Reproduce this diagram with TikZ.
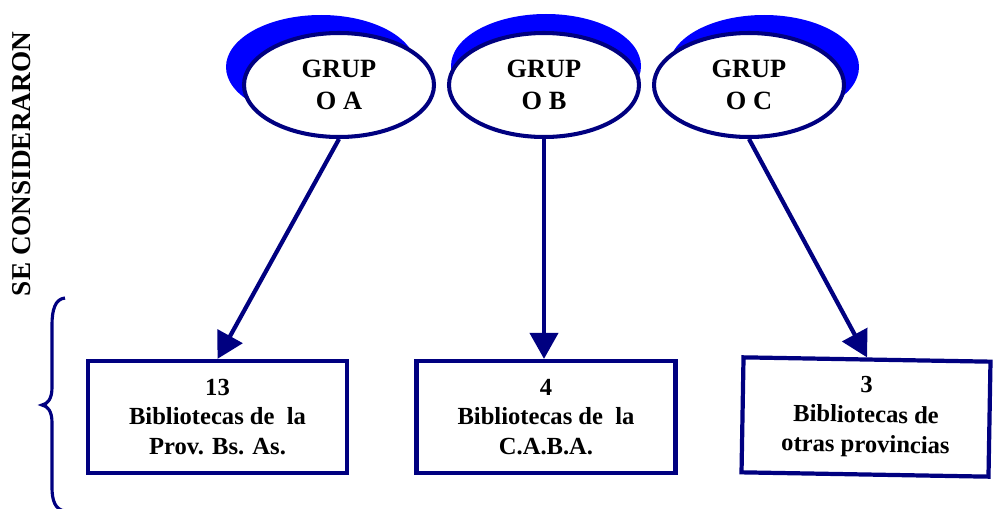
\documentclass[tikz,border=0pt]{standalone}
\usepackage{fontspec}
\setmainfont{Liberation Serif}
\usetikzlibrary{shapes.geometric,shadows,arrows.meta}
\definecolor{navyline}{RGB}{0,0,128}
\definecolor{shadowblue}{RGB}{0,0,255}
\begin{document}
\begin{tikzpicture}[font=\bfseries\fontsize{15}{18.2}\selectfont,
  grupo/.style={ellipse, draw=navyline, line width=2.3pt, fill=white, minimum width=3.8cm, minimum height=2.08cm, inner sep=0pt, align=center},
  caja/.style={rectangle, draw=navyline, line width=2.4pt, fill=white, align=center, inner sep=0pt, minimum width=5.18cm, minimum height=2.24cm, font=\bfseries\fontsize{14}{17}\selectfont},
  level distance=6.64cm, parent anchor=south, child anchor=north,
  edge from parent/.style={draw=navyline, line width=2.4pt, -{Triangle[length=0.52cm, width=0.56cm]}}]
\useasboundingbox (0,0) rectangle (19.86,-10.16);
\node [rotate=90, font=\bfseries\fontsize{15.5}{18}\selectfont] (titulo) at (0.44,-3.28) {SE CONSIDERARON};
\draw [navyline, line width=1.8pt] (1.30,-5.96) .. controls (1.10,-5.98) and (1.04,-6.2) .. (1.04,-6.5) -- (1.04,-7.75)
  .. controls (1.04,-7.98) and (0.95,-8.08) .. (0.84,-8.1) .. controls (0.95,-8.12) and (1.04,-8.22) .. (1.04,-8.45)
  -- (1.04,-9.75) .. controls (1.04,-10.0) and (1.10,-10.2) .. (1.30,-10.22);
\node [grupo, drop shadow={shadow xshift=-0.36cm, shadow yshift=0.36cm, fill=shadowblue, opacity=1}] (gA) at (6.78,-1.7) {GRUP\\O A}
  child {
    node [caja, xshift=-2.43cm] (bA) {13\\Bibliotecas de\ \ la\\Prov. Bs. As.}
  };
\node [grupo, drop shadow={shadow xshift=0.04cm, shadow yshift=0.38cm, fill=shadowblue, opacity=1}] (gB) at (10.88,-1.7) {GRUP\\O B}
  child [edge from parent path={(\tikzparentnode.south) -- (\tikzparentnode.south |- \tikzchildnode.north)}] {
    node [caja, xshift=0.04cm] (bB) {4\\Bibliotecas de\ \ la\\C.A.B.A.}
  };
\node [grupo, drop shadow={shadow xshift=0.3cm, shadow yshift=0.36cm, fill=shadowblue, opacity=1}] (gC) at (14.98,-1.7) {GRUP\\O C}
  child {
    node [caja, xshift=2.34cm, rotate=-1, minimum width=4.94cm, minimum height=2.3cm] (bC) {3\\Bibliotecas de\\otras provincias}
  };
\end{tikzpicture}
\end{document}
